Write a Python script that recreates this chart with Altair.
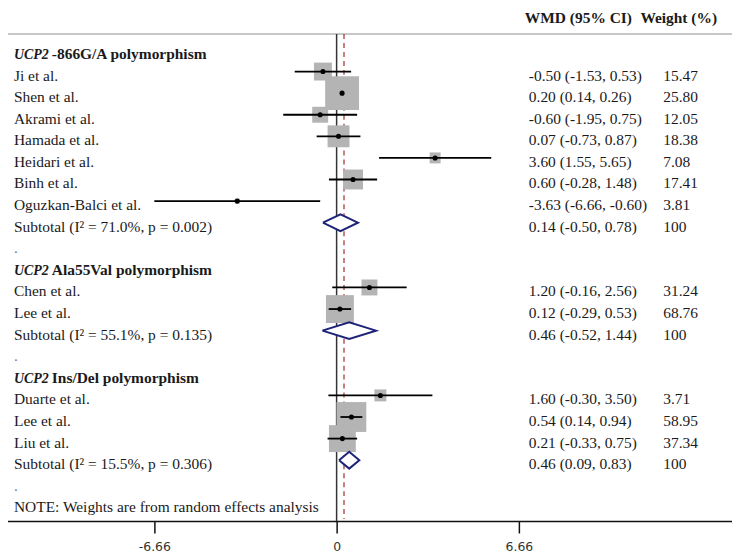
import altair as alt
import pandas as pd

# ---------------- data ----------------
genes = ["UCP2", "UCP2", "UCP2"]
group_names = ["-866G/A polymorphism", "Ala55Val polymorphism", "Ins/Del polymorphism"]
studies = [
    ["Ji et al.", "Shen et al.", "Akrami et al.", "Hamada et al.", "Heidari et al.",
     "Binh et al.", "Oguzkan-Balci et al."],
    ["Chen et al.", "Lee et al."],
    ["Duarte et al.", "Lee et al.", "Liu et al."],
]
est = [[-0.50, 0.20, -0.60, 0.07, 3.60, 0.60, -3.63], [1.20, 0.12], [1.60, 0.54, 0.21]]
lo = [[-1.53, 0.14, -1.95, -0.73, 1.55, -0.28, -6.66], [-0.16, -0.29], [-0.30, 0.14, -0.33]]
hi = [[0.53, 0.26, 0.75, 0.87, 5.65, 1.48, -0.60], [2.56, 0.53], [3.50, 0.94, 0.75]]
weights = [[15.47, 25.80, 12.05, 18.38, 7.08, 17.41, 3.81], [31.24, 68.76], [3.71, 58.95, 37.34]]
# overall (box) weights
box_weights = [[5.81, 20.72, 4.59, 8.68, 2.17, 7.17, 0.45], [4.59, 14.05], [2.58, 16.13, 13.07]]
sub_est = [0.14, 0.46, 0.46]
sub_lo = [-0.50, -0.52, 0.09]
sub_hi = [0.78, 1.44, 0.83]
sub_i2 = [71.0, 55.1, 15.5]
sub_p = ["0.002", "0.135", "0.306"]
overall_est = 0.27
axis_ticks = [-6.66, 0, 6.66]
col_headers = ["WMD (95% CI)", "Weight (%)"]
note = "NOTE: Weights are from random effects analysis"

# ---------------- build tables ----------------
W, H = 731, 489
DIAMOND_H = 0.39  # half height of the subtotal diamonds, in rows

study_rows, sub_rows, head_rows, dot_rows, poly, fill = [], [], [], [], [], []
r = 0
for g in range(len(group_names)):
    head_rows.append({"row": r, "gene": genes[g], "name": group_names[g]})
    r += 1
    for i, s in enumerate(studies[g]):
        study_rows.append({
            "row": r, "label": s, "est": est[g][i], "lo": lo[g][i], "hi": hi[g][i],
            "wmd": f"{est[g][i]:.2f} ({lo[g][i]:.2f}, {hi[g][i]:.2f})",
            "wt": f"{weights[g][i]:.2f}", "bw": box_weights[g][i],
        })
        r += 1
    sub_rows.append({
        "row": r,
        "label": f"Subtotal  (I\u00b2 = {sub_i2[g]:.1f}%, p = {sub_p[g]})",
        "wmd": f"{sub_est[g]:.2f} ({sub_lo[g]:.2f}, {sub_hi[g]:.2f})",
        "wt": "100",
    })
    pts = [(sub_lo[g], r), (sub_est[g], r - DIAMOND_H), (sub_hi[g], r),
           (sub_est[g], r + DIAMOND_H), (sub_lo[g], r)]
    for k, (px, py) in enumerate(pts):
        poly.append({"x": px, "row": py, "ord": k, "grp": g})
    fill += [
        {"x": sub_lo[g], "row": r, "row2": r, "grp": g},
        {"x": sub_est[g], "row": r - DIAMOND_H, "row2": r + DIAMOND_H, "grp": g},
        {"x": sub_hi[g], "row": r, "row2": r, "grp": g},
    ]
    r += 1
    dot_rows.append({"row": r, "label": "."})
    r += 1
note_row = r

df_st = pd.DataFrame(study_rows)
df_sub = pd.DataFrame(sub_rows)
df_head = pd.DataFrame(head_rows)
df_dot = pd.DataFrame(dot_rows)
df_poly = pd.DataFrame(poly)
df_fill = pd.DataFrame(fill)
df_note = pd.DataFrame([{"row": note_row, "label": note}])
df_ref = pd.DataFrame([{"x": 0.0}])
df_ov = pd.DataFrame([{"x": overall_est}])

# ---------------- scales ----------------
xscale = alt.Scale(domain=[-12.08, 14.52], nice=False, zero=False)
yscale = alt.Scale(domain=[-0.738, 21.817], reverse=True, nice=False, zero=False)
xaxis = alt.Axis(
    values=axis_ticks, title=None, grid=False,
    labelExpr="datum.value == 0 ? '0' : (datum.value < 0 ? '-' : '') + format(abs(datum.value), '.2f')",
    domainColor="#111", domainWidth=1.5, tickColor="#111", tickWidth=1.5,
    tickSize=12, labelPadding=8, labelFont="DejaVu Sans", labelFontSize=12.5,
    labelColor="#333", labelFlush=False,
)


def X(field="x"):
    return alt.X(field, type="quantitative", scale=xscale, axis=xaxis)


def Y(field="row"):
    return alt.Y(field, type="quantitative", scale=yscale, axis=None)


SERIF = "Liberation Serif"
FS = 15.5
TXT = "#1a1a1a"

top_rule = alt.Chart(df_ref).mark_rule(color="#c8c8c8", strokeWidth=2).encode(y=alt.value(0))
zero_line = alt.Chart(df_ref).mark_rule(color="#333", strokeWidth=1.5).encode(
    x=X(), y=alt.value(0), y2=alt.value(H)
)
ov_line = alt.Chart(df_ov).mark_rule(color="#a83c3c", strokeWidth=1.3, strokeDash=[5, 4]).encode(
    x=X(), y=alt.value(0), y2=alt.value(H - 2)
)
boxes = alt.Chart(df_st).mark_square(color="#b4b4b4", opacity=1).encode(
    x=X("est"), y=Y(),
    size=alt.Size("bw:Q", scale=alt.Scale(domain=[0, 100], range=[0, 5579]), legend=None),
)
ci = alt.Chart(df_st).mark_rule(color="#000", strokeWidth=1.8).encode(x=X("lo"), x2="hi", y=Y())
pts = alt.Chart(df_st).mark_point(shape="circle", filled=True, size=26, color="#000", opacity=1).encode(
    x=X("est"), y=Y()
)
dfill = alt.Chart(df_fill).mark_area(color="white", opacity=1).encode(
    x=X(), y=Y(), y2="row2", detail="grp:N"
)
dline = alt.Chart(df_poly).mark_line(color="#1c2378", strokeWidth=2).encode(
    x=X(), y=Y(), order="ord:Q", detail="grp:N"
)


def txt(df, field, xpx, weight="normal", style="normal", size=FS, color=TXT):
    return alt.Chart(df).mark_text(
        align="left", baseline="alphabetic", dy=9, font=SERIF, fontSize=size,
        fontWeight=weight, fontStyle=style, color=color,
    ).encode(x=alt.value(xpx), y=Y(), text=f"{field}:N")


lab_st = txt(df_st, "label", 8)
lab_sub = txt(df_sub, "label", 8)
lab_dot = txt(df_dot, "label", 8, color="#777")
lab_note = txt(df_note, "label", 8)
lab_gene = txt(df_head, "gene", 8, weight="bold", style="italic", size=14)
lab_name = txt(df_head, "name", 46, weight="bold")
wmd_st = txt(df_st, "wmd", 525)
wmd_sub = txt(df_sub, "wmd", 525)
wt_st = txt(df_st, "wt", 660)
wt_sub = txt(df_sub, "wt", 660)


def header(t, xpx):
    return alt.Chart(pd.DataFrame([{"t": t}])).mark_text(
        align="left", baseline="alphabetic", font=SERIF, fontSize=FS, fontWeight="bold", color=TXT
    ).encode(x=alt.value(xpx), y=alt.value(-11), text="t:N")


hdr1 = header(col_headers[0], 521)
hdr2 = header(col_headers[1], 637)

chart = alt.layer(
    top_rule, zero_line, ov_line, boxes, ci, pts, dfill, dline,
    lab_st, lab_sub, lab_dot, lab_note, lab_gene, lab_name,
    wmd_st, wmd_sub, wt_st, wt_sub, hdr1, hdr2,
).properties(
    width=W, height=H,
    autosize=alt.AutoSizeParams(type="none"),
    padding={"left": -2, "top": 25, "right": -2, "bottom": 35},
).configure(
    background="white",
).configure_view(
    stroke=None,
)

chart.save("out.html", embed_options={"renderer": "svg", "actions": False})
